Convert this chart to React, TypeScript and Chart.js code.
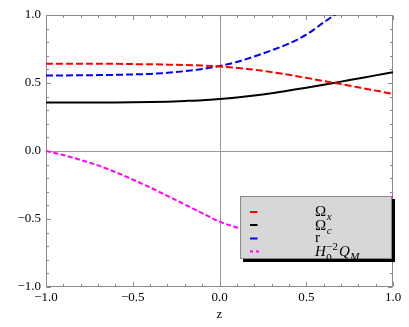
import React, { useEffect, useRef } from 'react';
import { Chart, registerables } from 'chart.js';

Chart.register(...registerables);

const zValues = [-1.0, -0.9, -0.8, -0.7, -0.6, -0.5, -0.4, -0.3, -0.2, -0.1, 0.0, 0.1, 0.2, 0.3, 0.4, 0.5, 0.6, 0.7, 0.8, 0.9, 1.0];
const omegaX = [0.642, 0.642, 0.642, 0.641, 0.641, 0.639, 0.638, 0.635, 0.632, 0.628, 0.622, 0.611, 0.598, 0.58, 0.56, 0.538, 0.515, 0.492, 0.468, 0.444, 0.42];
const omegaC = [0.356, 0.356, 0.356, 0.357, 0.357, 0.358, 0.36, 0.363, 0.368, 0.374, 0.383, 0.394, 0.408, 0.425, 0.445, 0.465, 0.487, 0.51, 0.533, 0.556, 0.58];
const rValues = [0.556, 0.556, 0.557, 0.558, 0.56, 0.563, 0.567, 0.575, 0.587, 0.603, 0.625, 0.655, 0.695, 0.74, 0.79, 0.855, 0.945, 1.035, 1.14, 1.27, 1.42];
const qmValues = [0, -0.03, -0.066, -0.106, -0.155, -0.21, -0.268, -0.33, -0.393, -0.457, -0.519, -0.562, -0.595, -0.612, -0.614, -0.6, -0.57, -0.525, -0.465, -0.4, -0.333];

const xTicks = [-1, -0.5, 0, 0.5, 1];
const yTicks = [-1, -0.5, 0, 0.5, 1];

const seriesColors = ['#ff0000', '#000000', '#0000ff', '#ff00ff'];

type Part = { t: string; italic?: boolean; small?: boolean; shift?: number; stackWithPrev?: boolean };
const legendEntries: Part[][] = [
  [{ t: 'Ω' }, { t: 'x', italic: true, small: true, shift: 4 }],
  [{ t: 'Ω' }, { t: 'c', italic: true, small: true, shift: 4 }],
  [{ t: 'r' }],
  [
    { t: 'H', italic: true },
    { t: '0', small: true, shift: 5 },
    { t: '−2', small: true, shift: -6, stackWithPrev: true },
    { t: 'Q', italic: true },
    { t: 'M', italic: true, small: true, shift: 4 },
  ],
];

const fmt = (v: number) => (v < 0 ? '−' : '') + Math.abs(v).toFixed(1);

const SERIF = '"Liberation Serif", "DejaVu Serif", serif';

const framePlugin = {
  id: 'mmaFrame',
  beforeDatasetsDraw(chart: any) {
    const { ctx, chartArea, scales } = chart;
    const { left, right, top, bottom } = chartArea;
    const xs = scales.x;
    const ys = scales.y;
    ctx.save();
    ctx.strokeStyle = '#9a9a9a';
    ctx.lineWidth = 1;
    const x0 = Math.round(xs.getPixelForValue(0)) + 0.5;
    const y0 = Math.round(ys.getPixelForValue(0)) + 0.5;
    ctx.beginPath();
    ctx.moveTo(x0, top);
    ctx.lineTo(x0, bottom);
    ctx.moveTo(left, y0);
    ctx.lineTo(right, y0);
    ctx.stroke();
    ctx.strokeStyle = '#8a8a8a';
    const l = Math.round(left) + 0.5;
    const r = Math.round(right) - 0.5;
    const t = Math.round(top) + 0.5;
    const b = Math.round(bottom) - 0.5;
    ctx.beginPath();
    ctx.rect(l, t, r - l, b - t);
    ctx.stroke();
    ctx.beginPath();
    for (let i = -10; i <= 10; i++) {
      const v = i / 10;
      const len = i % 5 === 0 ? 4.5 : 2.5;
      const px = Math.round(xs.getPixelForValue(v)) + 0.5;
      ctx.moveTo(px, b);
      ctx.lineTo(px, b - len);
      ctx.moveTo(px, t);
      ctx.lineTo(px, t + len);
      const py = Math.round(ys.getPixelForValue(v)) + 0.5;
      ctx.moveTo(l, py);
      ctx.lineTo(l + len, py);
      ctx.moveTo(r, py);
      ctx.lineTo(r - len, py);
    }
    ctx.stroke();
    ctx.restore();
  },
};

const legendPlugin = {
  id: 'mmaLegend',
  afterDraw(chart: any) {
    const { ctx } = chart;
    const bx = 240, by = 196, bw = 152, bh = 63;
    ctx.save();
    ctx.fillStyle = '#000';
    ctx.fillRect(bx + 3, by + 3, bw, bh);
    ctx.fillStyle = '#d7d7d7';
    ctx.fillRect(bx, by, bw, bh);
    ctx.strokeStyle = '#8a8a8a';
    ctx.lineWidth = 1;
    ctx.strokeRect(bx + 0.5, by + 0.5, bw - 1, bh - 1);

    const rows = [212, 225, 238.5, 251.5];
    const baselines = [216, 229.5, 242, 256];
    rows.forEach((yy, i) => {
      ctx.strokeStyle = seriesColors[i];
      ctx.lineWidth = 2;
      ctx.beginPath();
      if (i === 3) {
        ctx.moveTo(250, yy); ctx.lineTo(253, yy);
        ctx.moveTo(256, yy); ctx.lineTo(259, yy);
      } else {
        ctx.moveTo(250, yy); ctx.lineTo(257.5, yy);
      }
      ctx.stroke();
    });

    ctx.fillStyle = '#000';
    ctx.textBaseline = 'alphabetic';
    ctx.textAlign = 'left';
    legendEntries.forEach((parts, i) => {
      let x = 315;
      let prevStart = x;
      let prevEnd = x;
      parts.forEach((p) => {
        const size = p.small ? 11 : 15;
        ctx.font = `${p.italic ? 'italic ' : ''}${size}px ${SERIF}`;
        const start = p.stackWithPrev ? prevStart : x;
        ctx.fillText(p.t, start, baselines[i] + (p.shift || 0));
        const w = ctx.measureText(p.t).width;
        const end = start + w;
        if (p.stackWithPrev) {
          x = Math.max(prevEnd, end) + 1;
        } else {
          x = end + (p.small ? 0 : 0.5);
        }
        prevStart = start;
        prevEnd = end;
      });
    });
    ctx.restore();
  },
};

export default function App() {
  const canvasRef = useRef<HTMLCanvasElement | null>(null);

  useEffect(() => {
    const canvas = canvasRef.current;
    if (!canvas) return;
    const mk = (vals: number[]) => zValues.map((z, i) => ({ x: z, y: vals[i] }));
    const chart = new Chart(canvas, {
      type: 'line',
      data: {
        datasets: [
          { label: 'Ωx', data: mk(omegaX), borderColor: seriesColors[0], borderWidth: 2, borderDash: [7, 3] },
          { label: 'Ωc', data: mk(omegaC), borderColor: seriesColors[1], borderWidth: 2 },
          { label: 'r', data: mk(rValues), borderColor: seriesColors[2], borderWidth: 2, borderDash: [7, 3] },
          { label: 'H0^-2 QM', data: mk(qmValues), borderColor: seriesColors[3], borderWidth: 2, borderDash: [5, 2.5] },
        ].map((d) => ({ ...d, pointRadius: 0, fill: false, cubicInterpolationMode: 'monotone' as const, clip: 0 })),
      },
      options: {
        animation: false,
        responsive: true,
        maintainAspectRatio: false,
        layout: { padding: { top: 15, right: 16, left: 0, bottom: 0 } },
        plugins: { legend: { display: false }, tooltip: { enabled: false } },
        scales: {
          x: {
            type: 'linear',
            min: -1,
            max: 1,
            grid: { display: false, drawTicks: false },
            border: { display: false },
            afterBuildTicks: (s: any) => { s.ticks = xTicks.map((v) => ({ value: v })); },
            afterFit: (s: any) => { s.height = 40; },
            ticks: {
              padding: 3,
              color: '#000',
              font: { family: SERIF, size: 13 },
              maxRotation: 0,
              callback: (v: any) => fmt(Number(v)),
            },
            title: {
              display: true,
              text: 'z',
              color: '#000',
              font: { family: SERIF, size: 13 },
              padding: { top: 0, bottom: 5 },
            },
          },
          y: {
            type: 'linear',
            min: -1,
            max: 1,
            grid: { display: false, drawTicks: false },
            border: { display: false },
            afterBuildTicks: (s: any) => { s.ticks = yTicks.map((v) => ({ value: v })); },
            afterFit: (s: any) => { s.width = 46; },
            ticks: {
              padding: 5,
              color: '#000',
              font: { family: SERIF, size: 13 },
              callback: (v: any) => fmt(Number(v)),
            },
          },
        },
      },
      plugins: [framePlugin, legendPlugin],
    });
    return () => chart.destroy();
  }, []);

  return (
    <div style={{ position: 'fixed', left: 0, top: 0, width: 409, height: 327, background: '#fff' }}>
      <canvas ref={canvasRef} />
    </div>
  );
}
